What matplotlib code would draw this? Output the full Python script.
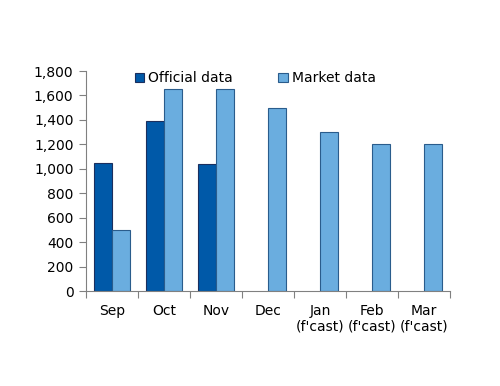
import matplotlib
matplotlib.use("Agg")
import matplotlib.pyplot as plt
import numpy as np

categories = ["Sep", "Oct", "Nov", "Dec", "Jan\n(f'cast)", "Feb\n(f'cast)", "Mar\n(f'cast)"]
official = [1045, 1390, 1040, None, None, None, None]
market = [500, 1650, 1650, 1500, 1300, 1200, 1200]
yticks = [0, 200, 400, 600, 800, 1000, 1200, 1400, 1600, 1800]

dark = "#0059A8"
light = "#6AADDF"

fig = plt.figure(figsize=(5, 3.86), dpi=100)
ax = fig.add_axes([0.172, 0.246, 0.728, 0.570])

x = np.arange(len(categories))
w = 0.345
ox = [xi for xi, v in zip(x, official) if v is not None]
ov = [v for v in official if v is not None]
ax.bar(np.array(ox) - w / 2, ov, width=w, color=dark, edgecolor="#1B2F5E", linewidth=0.8, label="Official data")
ax.bar(x + w / 2, market, width=w, color=light, edgecolor="#2A5C8C", linewidth=0.8, label="Market data")

ax.set_xlim(-0.5, len(categories) - 0.5)
ax.set_ylim(0, 1800)
ax.set_yticks(yticks)
ax.set_yticklabels([f"{v:,}" for v in yticks], fontsize=10)
ax.set_xticks(x)
ax.set_xticklabels(categories, fontsize=10)
ax.tick_params(axis="x", length=0, pad=9)
ax.set_xticks(np.arange(-0.5, len(categories)), minor=True)
ax.tick_params(axis="x", which="minor", length=5, width=0.8, color="#808080", direction="out")
ax.tick_params(axis="y", length=5, width=0.8, color="#808080", direction="out", pad=4)

for s in ["top", "right"]:
    ax.spines[s].set_visible(False)
for s in ["left", "bottom"]:
    ax.spines[s].set_color("#808080")
    ax.spines[s].set_linewidth(0.8)

leg = ax.legend(loc="upper left", bbox_to_anchor=(0.099, 1.055), ncol=2, frameon=False,
                fontsize=10, handlelength=0.7, handleheight=0.7, handletextpad=0.3,
                columnspacing=3.25)

fig.savefig("out.png", dpi=100)
